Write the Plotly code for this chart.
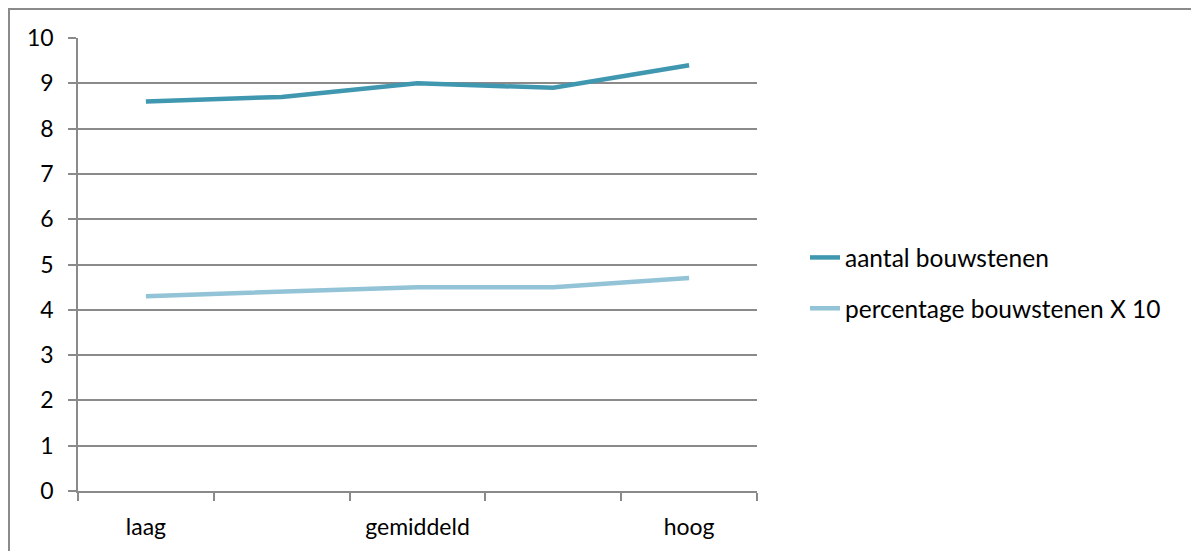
import plotly.graph_objects as go

# Categories on the x axis (only every other one carries a label)
categories = ["laag", "", "gemiddeld", "", "hoog"]
positions = [1, 2, 3, 4, 5]

# Series values
aantal_bouwstenen = [8.6, 8.7, 9.0, 8.9, 9.4]
percentage_bouwstenen_x10 = [4.3, 4.4, 4.5, 4.5, 4.7]

y_ticks = [0, 1, 2, 3, 4, 5, 6, 7, 8, 9, 10]

FONT = "Lato"
FS = 23
LEG_FS = 24.5
GRID = "#8a8a8a"

fig = go.Figure()
fig.add_trace(go.Scatter(
    x=positions, y=aantal_bouwstenen, mode="lines",
    name="aantal bouwstenen", legendgroup="a",
    line=dict(color="#4097b0", width=4.5),
))
fig.add_trace(go.Scatter(
    x=positions, y=percentage_bouwstenen_x10, mode="lines",
    name="percentage bouwstenen X 10", legendgroup="b",
    line=dict(color="#92c3d6", width=4.5),
))

W, H = 1191, 551
L, R, T, B = 78, 1191 - 757, 38, 551 - 491
pw = W - L - R
ph = H - T - B

fig.update_layout(
    width=W, height=H,
    margin=dict(l=L, r=R, t=T, b=B, pad=0, autoexpand=False),
    paper_bgcolor="white", plot_bgcolor="white",
    font=dict(family=FONT, size=FS, color="black"),
    showlegend=True,
    legend=dict(
        x=(805 - L) / pw, y=(491 - 235) / ph,
        xanchor="left", yanchor="top",
        bgcolor="rgba(0,0,0,0)",
        font=dict(family=FONT, size=LEG_FS, color="black"),
        traceorder="grouped", tracegroupgap=16, itemwidth=30,
    ),
    xaxis=dict(
        range=[0.5, 5.5], automargin=False,
        tickmode="array", tickvals=positions, ticktext=categories,
        ticks="", ticklen=0,
        showgrid=False, zeroline=False,
        showline=True, linecolor=GRID, linewidth=1.5,
        ticklabelstandoff=15,
        minor=dict(tickmode="array", tickvals=[0.5, 1.5, 2.5, 3.5, 4.5, 5.5],
                   ticks="outside", ticklen=8, tickcolor=GRID, tickwidth=1.5,
                   showgrid=False),
    ),
    yaxis=dict(
        range=[0, 10], automargin=False,
        tickmode="array", tickvals=y_ticks,
        ticks="outside", ticklen=8, tickcolor=GRID, tickwidth=1.5,
        showgrid=True, gridcolor=GRID, gridwidth=1.5,
        zeroline=False,
        showline=True, linecolor=GRID, linewidth=1.5,
        ticklabelstandoff=10,
    ),
)

# Chart frame
fig.add_shape(
    type="rect", xref="paper", yref="paper",
    x0=(9 - L) / pw, x1=(1200 - L) / pw,
    y0=(491 - 560) / ph, y1=(491 - 9) / ph,
    line=dict(color="#8a8a8a", width=2), fillcolor="rgba(0,0,0,0)",
    layer="below",
)

fig.write_html("out.html")
